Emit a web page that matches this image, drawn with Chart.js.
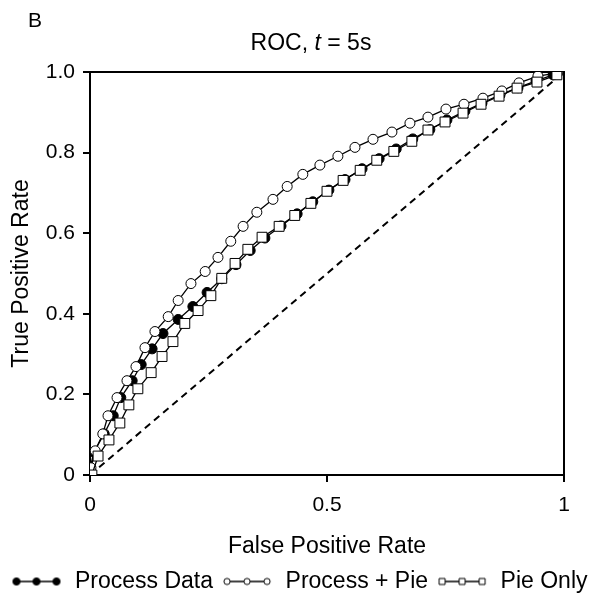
<!DOCTYPE html>
<html><head><meta charset="utf-8">
<script src="https://cdn.jsdelivr.net/npm/chart.js@4"></script>
<style>
html,body{margin:0;padding:0;background:#fff;overflow:hidden;}
#wrap{position:relative;width:597px;height:594px;overflow:hidden;}
#panel{position:absolute;left:28px;top:8px;font:21px "Liberation Sans",Arial,sans-serif;color:#000;}
#title{position:absolute;left:161px;width:300px;top:29px;text-align:center;font:23px "Liberation Sans",Arial,sans-serif;color:#000;}
canvas{position:absolute;left:0;top:0;}
</style></head><body>
<div id="wrap">
<canvas id="c" width="597" height="603"></canvas>
<div id="panel">B</div>
<div id="title">ROC, <i>t</i> = 5s</div>
</div>
<script>
// Data (false positive rate, true positive rate)
const processDataFPR = [0,0.008,0.030,0.049,0.065,0.089,0.108,0.131,0.154,0.186,0.217,0.247,0.278,0.308,0.338,0.369,0.403,0.437,0.470,0.504,0.538,0.574,0.610,0.646,0.681,0.717,0.753,0.791,0.827,0.865,0.903,0.941,0.977];
const processDataTPR = [0.015,0.057,0.102,0.147,0.192,0.234,0.274,0.313,0.351,0.386,0.418,0.453,0.487,0.522,0.557,0.588,0.618,0.648,0.678,0.707,0.733,0.760,0.785,0.809,0.834,0.857,0.881,0.903,0.923,0.943,0.961,0.978,0.993];
const processPieFPR = [0.002,0.011,0.027,0.038,0.057,0.078,0.097,0.116,0.137,0.165,0.186,0.213,0.243,0.270,0.297,0.323,0.352,0.386,0.416,0.449,0.485,0.523,0.559,0.597,0.637,0.675,0.713,0.751,0.789,0.829,0.869,0.905,0.945,0.987];
const processPieTPR = [0.018,0.060,0.102,0.147,0.192,0.234,0.269,0.316,0.356,0.393,0.433,0.475,0.505,0.540,0.580,0.617,0.652,0.684,0.716,0.746,0.769,0.791,0.813,0.833,0.851,0.873,0.888,0.908,0.920,0.935,0.953,0.973,0.990,0.998];
const pieOnlyFPR = [0.004,0.017,0.040,0.063,0.082,0.101,0.129,0.152,0.175,0.200,0.228,0.255,0.278,0.306,0.333,0.363,0.399,0.432,0.466,0.500,0.534,0.570,0.605,0.641,0.679,0.713,0.749,0.787,0.825,0.863,0.901,0.943,0.985];
const pieOnlyTPR = [0.000,0.047,0.087,0.129,0.174,0.214,0.254,0.294,0.331,0.376,0.408,0.445,0.488,0.525,0.560,0.590,0.617,0.644,0.674,0.704,0.731,0.756,0.781,0.803,0.828,0.856,0.876,0.898,0.920,0.940,0.960,0.975,0.993];
const chanceFPR = [0, 0.985];
const chanceTPR = [0, 0.985];
const seriesNames = ['Process Data', 'Process + Pie', 'Pie Only'];
const xTickValues = [0, 0.5, 1];
const xTickLabels = ['0', '0.5', '1'];
const yTickValues = [0, 0.2, 0.4, 0.6, 0.8, 1.0];
const yTickLabels = ['0', '0.2', '0.4', '0.6', '0.8', '1.0'];

const pts = (xs, ys) => xs.map((x, i) => ({x: x, y: ys[i]}));
const FONT = '"Liberation Sans", Arial, sans-serif';
const LEG_BOX = 54;     // legend box width reserved by Chart.js
function legendIcon(kind) {
  const c = document.createElement('canvas');
  c.width = LEG_BOX + 6; c.height = 12;
  const g = c.getContext('2d');
  const x1 = c.width - 8, x0 = x1 - 44;
  g.strokeStyle = '#000'; g.lineWidth = 1.3;
  g.beginPath(); g.moveTo(x0, 6); g.lineTo(x1, 6); g.stroke();
  [x0 + 2, (x0 + x1) / 2, x1 - 2].forEach(x => {
    g.beginPath();
    g.lineWidth = 1;
    if (kind === 'rect') { g.rect(x - 3, 3, 6, 6); }
    else if (kind === 'filled') { g.arc(x, 6, 3.6, 0, Math.PI * 2); }
    else { g.arc(x, 6, 3.1, 0, Math.PI * 2); }
    g.fillStyle = kind === 'filled' ? '#000' : '#fff';
    g.fill(); g.stroke();
  });
  return c;
}

const framePlugin = {
  id: 'frame',
  beforeDatasetsDraw(chart) {
    const a = chart.chartArea, g = chart.ctx;
    g.save();
    g.strokeStyle = '#000'; g.lineWidth = 2;
    g.beginPath();
    g.moveTo(a.left, a.top); g.lineTo(a.right, a.top); g.lineTo(a.right, a.bottom);
    g.stroke();
    g.restore();
  }
};

const common = {borderColor: '#000', borderWidth: 1.3, pointBorderColor: '#000', pointBorderWidth: 1, pointRadius: 5, showLine: true, tension: 0};

new Chart(document.getElementById('c'), {
  type: 'scatter',
  data: {
    datasets: [
      Object.assign({}, common, {label: seriesNames[0], data: pts(processDataFPR, processDataTPR), pointStyle: 'circle', pointBackgroundColor: '#000', order: 2, legendIcon: legendIcon('filled')}),
      Object.assign({}, common, {label: seriesNames[1], data: pts(processPieFPR, processPieTPR), pointStyle: 'circle', pointBackgroundColor: '#fff', order: 1, legendIcon: legendIcon('open')}),
      Object.assign({}, common, {label: seriesNames[2], data: pts(pieOnlyFPR, pieOnlyTPR), pointStyle: 'rect', pointRadius: 7, pointBackgroundColor: '#fff', order: 0, legendIcon: legendIcon('rect')}),
      {label: 'chance', data: pts(chanceFPR, chanceTPR), showLine: true, borderColor: '#000', borderWidth: 2, borderDash: [7, 5], pointRadius: 0, order: 3}
    ]
  },
  plugins: [framePlugin],
  options: {
    responsive: false,
    animation: false,
    layout: {padding: {top: 72, right: 0, left: 0, bottom: 0}},
    plugins: {
      tooltip: {enabled: false},
      legend: {
        position: 'bottom',
        labels: {
          color: '#000',
          font: {family: FONT, size: 23},
          usePointStyle: true,
          pointStyleWidth: LEG_BOX,
          padding: 7,
          filter: (item) => item.datasetIndex < 3,
          sort: (a, b) => a.datasetIndex - b.datasetIndex,
          generateLabels(chart) {
            return chart.data.datasets.map((ds, i) => ({
              text: ds.label, datasetIndex: i, pointStyle: ds.legendIcon || 'line',
              fillStyle: '#000', strokeStyle: '#000', lineWidth: 0, hidden: false, fontColor: '#000'
            }));
          }
        }
      }
    },
    scales: {
      x: {
        type: 'linear', min: 0, max: 1,
        afterBuildTicks(s) { s.ticks = xTickValues.map(v => ({value: v})); },
        afterFit(s) { s.height = 88; },
        ticks: {color: '#000', font: {family: FONT, size: 21}, padding: 10.5, maxRotation: 0,
          callback: (v) => { const i = xTickValues.indexOf(v); return i >= 0 ? xTickLabels[i] : ''; }},
        grid: {display: true, drawOnChartArea: false, drawTicks: true, tickLength: 7, color: '#000', lineWidth: 2},
        border: {display: true, color: '#000', width: 2},
        title: {display: true, text: 'False Positive Rate', color: '#000', font: {family: FONT, size: 23}, padding: {top: 4, bottom: 3}}
      },
      y: {
        type: 'linear', min: 0, max: 1,
        afterBuildTicks(s) { s.ticks = yTickValues.map(v => ({value: v})); },
        afterFit(s) { s.width = 90; },
        ticks: {color: '#000', font: {family: FONT, size: 21}, padding: 8,
          callback: (v) => { const i = yTickValues.findIndex(t => Math.abs(t - v) < 1e-9); return i >= 0 ? yTickLabels[i] : ''; }},
        grid: {display: true, drawOnChartArea: false, drawTicks: true, tickLength: 7, color: '#000', lineWidth: 2},
        border: {display: true, color: '#000', width: 2},
        title: {display: true, text: 'True Positive Rate', color: '#000', font: {family: FONT, size: 23}, padding: {top: 8, bottom: 0}}
      },
      yRight: {
        type: 'linear', position: 'right', min: 0, max: 1,
        afterFit(s) { s.width = 33; },
        ticks: {display: false},
        grid: {display: false, drawTicks: false},
        border: {display: false},
        title: {display: false}
      }
    }
  }
});
</script>
</body></html>
